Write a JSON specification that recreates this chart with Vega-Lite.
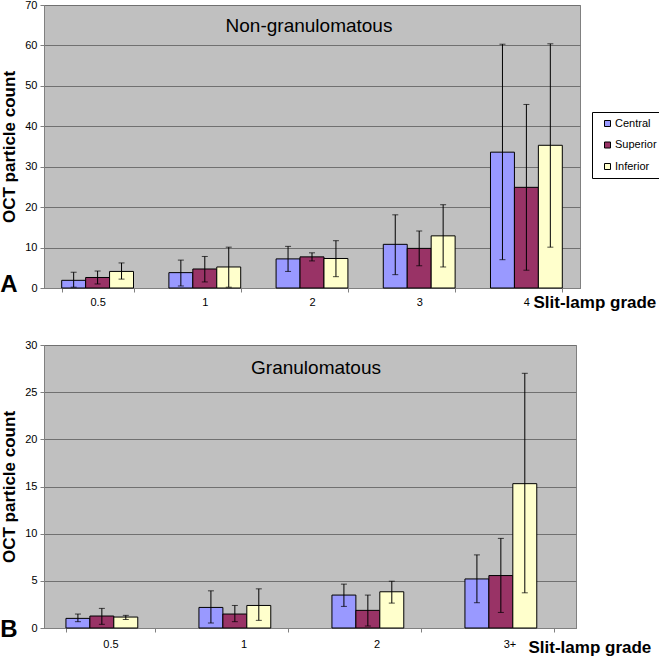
{
  "$schema": "https://vega.github.io/schema/vega-lite/v6.json",
  "padding": {"left": 0, "top": -2, "right": 0, "bottom": 0},
  "spacing": 27,
  "config": {
    "font": "Liberation Sans",
    "view": {"fill": "#C0C0C0", "stroke": "#808080", "strokeWidth": 1},
    "axis": {
      "labelFont": "Liberation Sans", "labelFontSize": 11, "labelColor": "#000000",
      "titleFont": "Liberation Sans", "titleFontSize": 17, "titleFontWeight": "bold", "titleColor": "#000000",
      "domainColor": "#808080", "tickColor": "#808080", "tickSize": 4,
      "gridColor": "#707070", "gridWidth": 1
    },
    "axisX": {"grid": false, "labelAngle": 0, "tickBand": "extent", "labelPadding": 4, "titleAlign": "left", "titleBaseline": "alphabetic", "titleAnchor": null},
    "axisY": {"grid": true, "labelPadding": 3, "titlePadding": 6},
    "legend": {
      "orient": "none", "fillColor": "white", "strokeColor": "black", "padding": 6,
      "symbolType": "square", "symbolSize": 36, "symbolStrokeColor": "black", "symbolStrokeWidth": 1,
      "symbolOffset": 4, "labelFont": "Liberation Sans", "labelFontSize": 11, "labelColor": "#000000",
      "labelOffset": 2, "rowPadding": 9.5, "title": null
    },
    "title": {"font": "Liberation Sans", "color": "#000000"}
  },
  "datasets": {
    "top": [
      {"grade": "0.5", "location": "Central", "mean": 1.9, "lo": 0.2, "hi": 3.9},
      {"grade": "0.5", "location": "Superior", "mean": 2.6, "lo": 1.0, "hi": 4.2},
      {"grade": "0.5", "location": "Inferior", "mean": 4.1, "lo": 2.2, "hi": 6.2},
      {"grade": "1", "location": "Central", "mean": 3.8, "lo": 0.5, "hi": 6.9},
      {"grade": "1", "location": "Superior", "mean": 4.7, "lo": 1.5, "hi": 7.8},
      {"grade": "1", "location": "Inferior", "mean": 5.2, "lo": 0.2, "hi": 10.1},
      {"grade": "2", "location": "Central", "mean": 7.2, "lo": 4.1, "hi": 10.3},
      {"grade": "2", "location": "Superior", "mean": 7.7, "lo": 6.7, "hi": 8.7},
      {"grade": "2", "location": "Inferior", "mean": 7.3, "lo": 2.8, "hi": 11.7},
      {"grade": "3", "location": "Central", "mean": 10.8, "lo": 3.3, "hi": 18.1},
      {"grade": "3", "location": "Superior", "mean": 9.8, "lo": 5.5, "hi": 14.1},
      {"grade": "3", "location": "Inferior", "mean": 12.9, "lo": 5.2, "hi": 20.6},
      {"grade": "4", "location": "Central", "mean": 33.6, "lo": 7.0, "hi": 60.3},
      {"grade": "4", "location": "Superior", "mean": 24.9, "lo": 4.4, "hi": 45.4},
      {"grade": "4", "location": "Inferior", "mean": 35.3, "lo": 10.1, "hi": 60.4}
    ],
    "bottom": [
      {"grade": "0.5", "location": "Central", "mean": 1.02, "lo": 0.67, "hi": 1.48},
      {"grade": "0.5", "location": "Superior", "mean": 1.27, "lo": 0.39, "hi": 2.08},
      {"grade": "0.5", "location": "Inferior", "mean": 1.16, "lo": 0.9, "hi": 1.34},
      {"grade": "1", "location": "Central", "mean": 2.18, "lo": 0.53, "hi": 3.94},
      {"grade": "1", "location": "Superior", "mean": 1.48, "lo": 0.67, "hi": 2.39},
      {"grade": "1", "location": "Inferior", "mean": 2.39, "lo": 0.81, "hi": 4.15},
      {"grade": "2", "location": "Central", "mean": 3.49, "lo": 2.29, "hi": 4.65},
      {"grade": "2", "location": "Superior", "mean": 1.87, "lo": 0.21, "hi": 3.49},
      {"grade": "2", "location": "Inferior", "mean": 3.84, "lo": 2.64, "hi": 4.96},
      {"grade": "3+", "location": "Central", "mean": 5.2, "lo": 2.68, "hi": 7.75},
      {"grade": "3+", "location": "Superior", "mean": 5.56, "lo": 1.65, "hi": 9.5},
      {"grade": "3+", "location": "Inferior", "mean": 15.3, "lo": 3.73, "hi": 27.0}
    ]
  },
  "vconcat": [
    {
      "title": {"text": "A", "orient": "bottom", "anchor": "start", "frame": "bounds", "fontSize": 24, "fontWeight": "bold", "baseline": "alphabetic", "offset": 0, "dy": -19},
      "vconcat": [
        {
          "title": {"text": "Non-granulomatous", "orient": "top", "anchor": "middle", "frame": "group", "fontSize": 19, "fontWeight": "normal", "baseline": "alphabetic", "offset": -28, "dy": 24, "dx": -3},
          "width": 536,
          "height": 283,
          "data": {"name": "top"},
          "encoding": {
            "x": {"field": "grade", "type": "nominal", "sort": ["0.5", "1", "2", "3", "4"],
                  "scale": {"paddingInner": 0.33, "paddingOuter": 0.165},
                  "axis": {"title": "Slit-lamp grade", "titleX": 489, "titleY": 19}},
            "xOffset": {"field": "location", "type": "nominal", "sort": ["Central", "Superior", "Inferior"]}
          },
          "layer": [
            {
              "mark": {"type": "bar", "stroke": "black", "strokeWidth": 1},
              "encoding": {
                "y": {"field": "mean", "type": "quantitative", "title": "OCT particle count",
                      "scale": {"domain": [0, 70], "nice": false},
                      "axis": {"values": [0, 10, 20, 30, 40, 50, 60, 70]}},
                "color": {"field": "location", "type": "nominal", "sort": ["Central", "Superior", "Inferior"],
                          "scale": {"domain": ["Central", "Superior", "Inferior"], "range": ["#9999FF", "#993366", "#FFFFCC"]},
                          "legend": {"legendX": 548, "legendY": 107}}
              }
            },
            {
              "mark": {"type": "rule", "color": "black", "strokeWidth": 1},
              "encoding": {
                "y": {"field": "lo", "type": "quantitative", "title": "OCT particle count"},
                "y2": {"field": "hi"}
              }
            },
            {
              "mark": {"type": "tick", "orient": "horizontal", "size": 6, "thickness": 1, "color": "black"},
              "encoding": {"y": {"field": "lo", "type": "quantitative", "title": "OCT particle count"}}
            },
            {
              "mark": {"type": "tick", "orient": "horizontal", "size": 6, "thickness": 1, "color": "black"},
              "encoding": {"y": {"field": "hi", "type": "quantitative", "title": "OCT particle count"}}
            }
          ]
        }
      ]
    },
    {
      "title": {"text": "B", "orient": "bottom", "anchor": "start", "frame": "bounds", "fontSize": 24, "fontWeight": "bold", "baseline": "alphabetic", "offset": 0, "dy": -19},
      "vconcat": [
        {
          "title": {"text": "Granulomatous", "orient": "top", "anchor": "middle", "frame": "group", "fontSize": 19, "fontWeight": "normal", "baseline": "alphabetic", "offset": -30, "dy": 24, "dx": 6},
          "width": 532,
          "height": 283,
          "data": {"name": "bottom"},
          "encoding": {
            "x": {"field": "grade", "type": "nominal", "sort": ["0.5", "1", "2", "3+"],
                  "scale": {"paddingInner": 0.33, "paddingOuter": 0.165},
                  "axis": {"title": "Slit-lamp grade", "titleX": 484, "titleY": 24, "labelPadding": 6}},
            "xOffset": {"field": "location", "type": "nominal", "sort": ["Central", "Superior", "Inferior"]}
          },
          "layer": [
            {
              "mark": {"type": "bar", "stroke": "black", "strokeWidth": 1},
              "encoding": {
                "y": {"field": "mean", "type": "quantitative", "title": "OCT particle count",
                      "scale": {"domain": [0, 30], "nice": false},
                      "axis": {"values": [0, 5, 10, 15, 20, 25, 30]}},
                "color": {"field": "location", "type": "nominal", "sort": ["Central", "Superior", "Inferior"],
                          "scale": {"domain": ["Central", "Superior", "Inferior"], "range": ["#9999FF", "#993366", "#FFFFCC"]},
                          "legend": {"legendX": 547, "legendY": 106}}
              }
            },
            {
              "mark": {"type": "rule", "color": "black", "strokeWidth": 1},
              "encoding": {
                "y": {"field": "lo", "type": "quantitative", "title": "OCT particle count"},
                "y2": {"field": "hi"}
              }
            },
            {
              "mark": {"type": "tick", "orient": "horizontal", "size": 6, "thickness": 1, "color": "black"},
              "encoding": {"y": {"field": "lo", "type": "quantitative", "title": "OCT particle count"}}
            },
            {
              "mark": {"type": "tick", "orient": "horizontal", "size": 6, "thickness": 1, "color": "black"},
              "encoding": {"y": {"field": "hi", "type": "quantitative", "title": "OCT particle count"}}
            }
          ]
        }
      ]
    }
  ]
}
